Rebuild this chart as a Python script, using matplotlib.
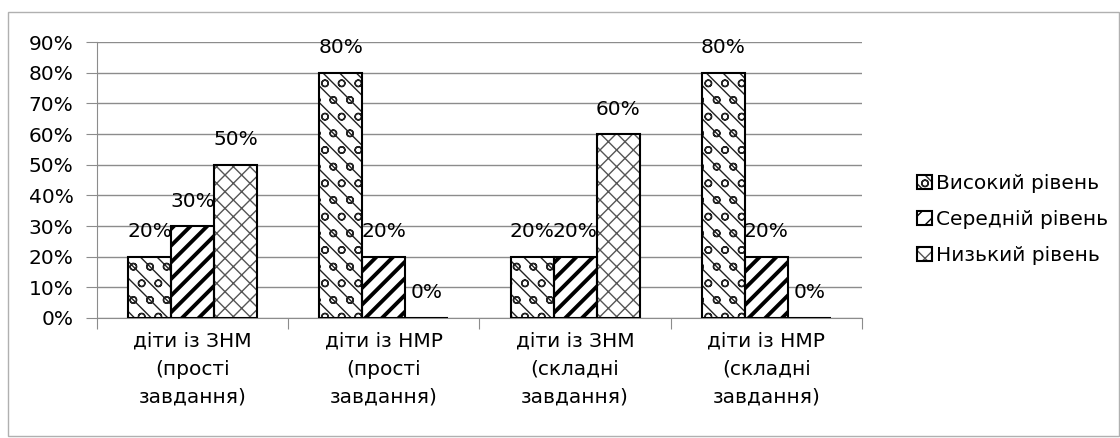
import numpy as np
import matplotlib.pyplot as plt
from matplotlib.patches import Rectangle
from matplotlib.legend_handler import HandlerTuple

plt.rcParams['font.family'] = ['DejaVu Sans']

categories = ["діти із ЗНМ\n(прості\nзавдання)", "діти із НМР\n(прості\nзавдання)",
              "діти із ЗНМ\n(складні\nзавдання)", "діти із НМР\n(складні\nзавдання)"]
series = ["Високий рівень", "Середній рівень", "Низький рівень"]
high = [20, 80, 20, 80]
medium = [30, 20, 20, 20]
low = [50, 0, 60, 0]
yticks = [0, 10, 20, 30, 40, 50, 60, 70, 80, 90]

values = [high, medium, low]
hatches = ["\\\\o", "//", "xx"]
hatch_colors = ["#222222", "black", "#555555"]
hatch_lw = [1.0, 2.8, 1.0]
fs = 14.5

fig = plt.figure(figsize=(11.2, 4.38), dpi=100)
fig.patches.append(Rectangle((0.007, 0.005), 0.992, 0.967, transform=fig.transFigure,
                             fill=False, edgecolor="#b0b0b0", lw=1))
ax = fig.add_axes([0.0866, 0.274, 0.683, 0.630])

x = np.arange(len(categories))
w = 0.225
handles = []
for i, (vals, name) in enumerate(zip(values, series)):
    pos = x + (i - 1) * w
    fill = ax.bar(pos, vals, w, color="white", edgecolor=hatch_colors[i],
                  hatch=hatches[i], lw=0, zorder=2)
    for b in fill:
        try:
            b.set_hatch_linewidth(hatch_lw[i])
        except AttributeError:
            pass
    edge = ax.bar(pos, vals, w, fill=False, edgecolor="black", lw=1.5, zorder=3)
    handles.append((fill[0], edge[0]))
    for xp, v in zip(pos, vals):
        ax.annotate(f"{v}%", (xp, v), xytext=(0, 18), textcoords="offset points",
                    ha="center", va="center", fontsize=fs)

ax.set_xlim(-0.5, 3.5)
ax.set_ylim(0, 90)
ax.set_yticks(yticks)
ax.set_yticklabels([f"{t}%" for t in yticks], fontsize=fs)
ax.yaxis.grid(True, color="#8c8c8c", lw=1, zorder=0)
ax.set_axisbelow(True)
ax.set_xticks(np.arange(-0.5, 4, 1))
ax.set_xticklabels([])
ax.set_xticks(x, minor=True)
ax.set_xticklabels(categories, minor=True, fontsize=fs, linespacing=1.6)
ax.tick_params(axis="x", which="minor", length=0, pad=10)
ax.tick_params(axis="x", which="major", length=8, color="#8c8c8c")
ax.tick_params(axis="y", length=8, color="#8c8c8c", pad=9)
for s in ["top", "right"]:
    ax.spines[s].set_visible(False)
for s in ["left", "bottom"]:
    ax.spines[s].set_color("#8c8c8c")

fig.legend(handles, series, handler_map={tuple: HandlerTuple(ndivide=1, pad=0)},
           loc="center left", bbox_to_anchor=(0.803, 0.498),
           frameon=False, fontsize=fs, handlelength=0.7, handleheight=0.7,
           handletextpad=0.2, labelspacing=0.85)

fig.savefig("out.png", dpi=100)
